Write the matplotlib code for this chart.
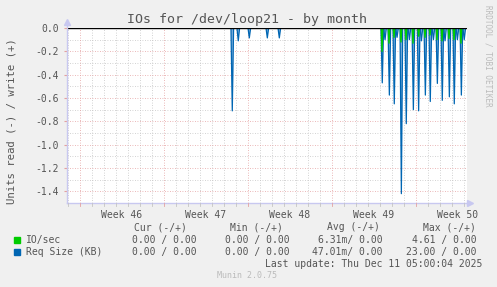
import matplotlib
matplotlib.use("Agg")
import matplotlib.pyplot as plt

# ---- data (x in days from start of Week 46) ----
week_labels = ["Week 46", "Week 47", "Week 48", "Week 49", "Week 50"]
week_label_pos = [3.5, 10.5, 17.5, 24.5, 31.5]

req_days = [12.69, 13.19, 14.11, 15.61, 16.61,
            25.19, 25.42, 25.78, 26.19, 26.42, 26.78, 27.19, 27.45, 27.78,
            28.22, 28.45, 28.78, 29.19, 29.45, 29.78, 30.19, 30.42, 30.78,
            31.19, 31.45, 31.78, 32.02]
req_vals = [0.71, 0.11, 0.085, 0.085, 0.085,
            0.47, 0.10, 0.575, 0.65, 0.08, 1.42, 0.82, 0.10, 0.70,
            0.71, 0.11, 0.575, 0.63, 0.10, 0.475, 0.62, 0.11, 0.59,
            0.65, 0.10, 0.575, 0.10]

io_days = [25.17, 25.75, 26.17, 26.75, 27.17, 27.75, 28.22, 28.75,
           29.17, 29.75, 30.17, 30.75, 31.17, 31.75]
io_vals = [0.20, 0.13, 0.08, 0.12, 0.10, 0.13, 0.07, 0.08,
           0.06, 0.10, 0.11, 0.09, 0.10, 0.13]

legend_names = ["IO/sec", "Req Size (KB)"]
legend_colors = ["#00cc00", "#0066b3"]
cur_vals = ["0.00 / 0.00", "0.00 / 0.00"]
min_vals = ["0.00 / 0.00", "0.00 / 0.00"]
avg_vals = ["6.31m/ 0.00", "47.01m/ 0.00"]
max_vals = ["4.61 / 0.00", "23.00 / 0.00"]

W, H = 497, 287
fig = plt.figure(figsize=(W / 100, H / 100), dpi=100, facecolor="#f0f0f0")
ax = fig.add_axes([67 / W, 84 / H, 400 / W, 175 / H])
ax.set_facecolor("white")
ax.set_xlim(-1.083, 32.25)
ax.set_ylim(-1.5, 0)

font = "DejaVu Sans Mono"
tc = "#555555"
minor_c = "#c4c4c4"
major_c = "#e4a0a0"

# grid
for d in range(-1, 33):
    if d % 7 == 0:
        continue
    ax.axvline(d, color=minor_c, lw=0.6, ls=(0, (1, 2)), zorder=0)
for d in [0, 7, 14, 21, 28]:
    ax.axvline(d, color=major_c, lw=0.6, ls=(0, (1, 2)), zorder=0.5)
for i in range(1, 15):
    y = -i * 0.1
    if i % 2:
        ax.axhline(y, color=minor_c, lw=0.6, ls=(0, (1, 2)), zorder=0)
    else:
        ax.axhline(y, color=major_c, lw=0.6, ls=(0, (1, 2)), zorder=0.5)

# spikes
w = 0.11
for d, v in zip(req_days, req_vals):
    ax.fill([d - w, d, d + w], [0, -v, 0], color="#7fb0dd", lw=0, zorder=2)
    ax.plot([d - w, d, d + w], [0, -v, 0], color="#0066b3", lw=0.9, zorder=3)
wg = 0.06
for d, v in zip(io_days, io_vals):
    ax.plot([d - wg, d, d + wg], [0, -v, 0], color="#00cc00", lw=1.0, zorder=4)

ax.axhline(0, color="black", lw=1.0, zorder=5)

# axes appearance
for s in ax.spines.values():
    s.set_visible(False)
ax.set_xticks(week_label_pos)
ax.set_xticklabels(week_labels, family=font, fontsize=7, color=tc)
ax.tick_params(axis="x", length=0, pad=5)
ax.set_yticks([-1.4, -1.2, -1.0, -0.8, -0.6, -0.4, -0.2, 0.0])
ax.set_yticklabels(["-1.4", "-1.2", "-1.0", "-0.8", "-0.6", "-0.4", "-0.2", "0.0"],
                   family=font, fontsize=7, color=tc)
ax.tick_params(axis="y", length=2, color=major_c, pad=4)

axcol = "#c8c8f0"
ax.plot([-1.083, -1.083], [-1.5, 0.045], color=axcol, lw=1, clip_on=False, zorder=6)
ax.plot([-1.083, 32.45], [-1.5, -1.5], color=axcol, lw=1, clip_on=False, zorder=6)
ax.plot([-1.083], [0.05], marker="^", color=axcol, ms=5, clip_on=False, zorder=6)
ax.plot([32.5], [-1.5], marker=">", color=axcol, ms=5, clip_on=False, zorder=6)
for d in range(-1, 33):
    c = major_c if d % 7 == 0 else minor_c
    ax.plot([d, d], [-1.5, -1.525], color=c, lw=0.6, clip_on=False, zorder=6)

fig.text(12 / W, 1 - 121 / H, "Units read (-) / write (+)", family=font, fontsize=7.7,
         color=tc, rotation=90, ha="center", va="center")

# title
fig.text(247 / W, 1 - 19 / H, "IOs for /dev/loop21 - by month", family=font,
         fontsize=9.5, color=tc, ha="center", va="center")
fig.text(488 / W, 1 - 5 / H, "RRDTOOL / TOBI OETIKER", family=font, fontsize=5.5,
         color="#bbbbbb", rotation=270, ha="center", va="top")

# legend table
def ft(x, y, s, ha="left", color=tc, size=7):
    fig.text(x / W, 1 - y / H, s, family=font, fontsize=size, color=color,
             ha=ha, va="center")

ft(187, 227, "Cur (-/+)", ha="right")
ft(283, 227, "Min (-/+)", ha="right")
ft(380, 227, "Avg (-/+)", ha="right")
ft(476, 227, "Max (-/+)", ha="right")
rows_y = [240, 252]
for i in range(2):
    y = rows_y[i]
    fig.patches.append(plt.Rectangle((14 / W, 1 - (y + 3) / H), 6 / W, 6 / H,
                                     transform=fig.transFigure, color=legend_colors[i]))
    ft(26, y, legend_names[i])
    ft(197, y, cur_vals[i], ha="right")
    ft(290, y, min_vals[i], ha="right")
    ft(383, y, avg_vals[i], ha="right")
    ft(477, y, max_vals[i], ha="right")
ft(482, 264, "Last update: Thu Dec 11 05:00:04 2025", ha="right")
ft(247, 276, "Munin 2.0.75", ha="center", color="#bbbbbb", size=6)

fig.savefig("out.png", dpi=100, facecolor=fig.get_facecolor())
